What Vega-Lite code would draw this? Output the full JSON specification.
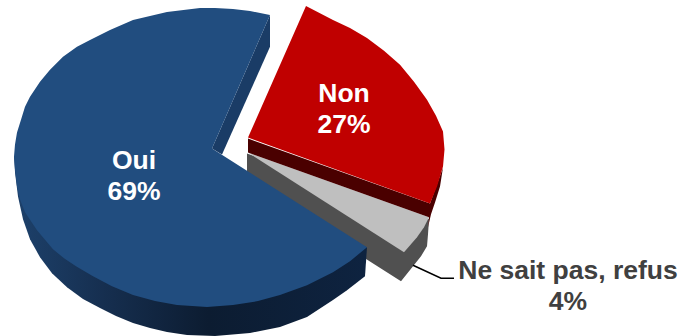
{
  "$schema": "https://vega.github.io/schema/vega-lite/v6.json",
  "width": 681,
  "height": 336,
  "padding": 0,
  "autosize": {"type": "fit", "contains": "padding"},
  "background": "white",
  "view": {"stroke": null},
  "config": {"font": "Liberation Sans"},
  "datasets": {
    "faces": [
      {"part":"gris_cote","seq":1,"x":247,"y":154},{"part":"gris_cote","seq":2,"x":429,"y":220},{"part":"gris_cote","seq":3,"x":428,"y":235},{"part":"gris_cote","seq":4,"x":427,"y":247},{"part":"gris_cote","seq":5,"x":421,"y":257},{"part":"gris_cote","seq":6,"x":413,"y":267},{"part":"gris_cote","seq":7,"x":401,"y":282},{"part":"gris_cote","seq":8,"x":247,"y":184},
      {"part":"gris_dessus","seq":1,"x":248,"y":153},{"part":"gris_dessus","seq":2,"x":429,"y":218},{"part":"gris_dessus","seq":3,"x":424,"y":228},{"part":"gris_dessus","seq":4,"x":417,"y":238},{"part":"gris_dessus","seq":5,"x":404,"y":253},
      {"part":"non_cote","seq":1,"x":248,"y":139},{"part":"non_cote","seq":2,"x":430,"y":204},{"part":"non_cote","seq":3,"x":443,"y":168},{"part":"non_cote","seq":4,"x":440,"y":187},{"part":"non_cote","seq":5,"x":435,"y":203},{"part":"non_cote","seq":6,"x":431,"y":215},{"part":"non_cote","seq":7,"x":428,"y":228},{"part":"non_cote","seq":8,"x":429,"y":218},{"part":"non_cote","seq":9,"x":248,"y":153},
      {"part":"non_dessus","seq":1,"x":248,"y":138},{"part":"non_dessus","seq":2,"x":306,"y":6},{"part":"non_dessus","seq":3,"x":333,"y":20},{"part":"non_dessus","seq":4,"x":350,"y":28},{"part":"non_dessus","seq":5,"x":367,"y":38},{"part":"non_dessus","seq":6,"x":384,"y":51},{"part":"non_dessus","seq":7,"x":400,"y":65},{"part":"non_dessus","seq":8,"x":414,"y":82},{"part":"non_dessus","seq":9,"x":427,"y":100},{"part":"non_dessus","seq":10,"x":436,"y":116},{"part":"non_dessus","seq":11,"x":443,"y":132},{"part":"non_dessus","seq":12,"x":444.5,"y":150},{"part":"non_dessus","seq":13,"x":443,"y":167},{"part":"non_dessus","seq":14,"x":437,"y":187},{"part":"non_dessus","seq":15,"x":430,"y":204},
      {"part":"oui_cote","seq":1,"x":14,"y":157},{"part":"oui_cote","seq":2,"x":15,"y":173},{"part":"oui_cote","seq":3,"x":18,"y":197},{"part":"oui_cote","seq":4,"x":23,"y":220},{"part":"oui_cote","seq":5,"x":30,"y":240},{"part":"oui_cote","seq":6,"x":40,"y":258},{"part":"oui_cote","seq":7,"x":52,"y":274},{"part":"oui_cote","seq":8,"x":67,"y":288},{"part":"oui_cote","seq":9,"x":83,"y":300},{"part":"oui_cote","seq":10,"x":100,"y":309},{"part":"oui_cote","seq":11,"x":116,"y":317},{"part":"oui_cote","seq":12,"x":133,"y":324},{"part":"oui_cote","seq":13,"x":150,"y":329},{"part":"oui_cote","seq":14,"x":167,"y":333},{"part":"oui_cote","seq":15,"x":187,"y":336},{"part":"oui_cote","seq":16,"x":215,"y":337},{"part":"oui_cote","seq":17,"x":250,"y":334},{"part":"oui_cote","seq":18,"x":280,"y":328},{"part":"oui_cote","seq":19,"x":307,"y":318},{"part":"oui_cote","seq":20,"x":333,"y":301},{"part":"oui_cote","seq":21,"x":347,"y":291},{"part":"oui_cote","seq":22,"x":365,"y":277},{"part":"oui_cote","seq":23,"x":367,"y":248},
      {"part":"oui_coupe","seq":1,"x":270,"y":15},{"part":"oui_coupe","seq":2,"x":270,"y":47},{"part":"oui_coupe","seq":3,"x":222,"y":155},{"part":"oui_coupe","seq":4,"x":212,"y":149},
      {"part":"oui_dessus","seq":1,"x":212,"y":149},{"part":"oui_dessus","seq":2,"x":270,"y":15},{"part":"oui_dessus","seq":3,"x":250,"y":11},{"part":"oui_dessus","seq":4,"x":233,"y":9},{"part":"oui_dessus","seq":5,"x":215,"y":8},{"part":"oui_dessus","seq":6,"x":200,"y":8},{"part":"oui_dessus","seq":7,"x":167,"y":12},{"part":"oui_dessus","seq":8,"x":133,"y":20},{"part":"oui_dessus","seq":9,"x":110,"y":30},{"part":"oui_dessus","seq":10,"x":90,"y":40},{"part":"oui_dessus","seq":11,"x":77,"y":47},{"part":"oui_dessus","seq":12,"x":63,"y":57},{"part":"oui_dessus","seq":13,"x":50,"y":70},{"part":"oui_dessus","seq":14,"x":40,"y":82},{"part":"oui_dessus","seq":15,"x":30,"y":97},{"part":"oui_dessus","seq":16,"x":25,"y":107},{"part":"oui_dessus","seq":17,"x":21,"y":120},{"part":"oui_dessus","seq":18,"x":17,"y":133},{"part":"oui_dessus","seq":19,"x":15,"y":145},{"part":"oui_dessus","seq":20,"x":14,"y":157},{"part":"oui_dessus","seq":21,"x":15,"y":170},{"part":"oui_dessus","seq":22,"x":17,"y":187},{"part":"oui_dessus","seq":23,"x":20,"y":200},{"part":"oui_dessus","seq":24,"x":25,"y":213},{"part":"oui_dessus","seq":25,"x":37,"y":231},{"part":"oui_dessus","seq":26,"x":53,"y":250},{"part":"oui_dessus","seq":27,"x":64,"y":259},{"part":"oui_dessus","seq":28,"x":76,"y":267},{"part":"oui_dessus","seq":29,"x":93,"y":277},{"part":"oui_dessus","seq":30,"x":112,"y":287},{"part":"oui_dessus","seq":31,"x":133,"y":296},{"part":"oui_dessus","seq":32,"x":155,"y":302},{"part":"oui_dessus","seq":33,"x":177,"y":306},{"part":"oui_dessus","seq":34,"x":207,"y":308},{"part":"oui_dessus","seq":35,"x":233,"y":306},{"part":"oui_dessus","seq":36,"x":258,"y":302},{"part":"oui_dessus","seq":37,"x":280,"y":296},{"part":"oui_dessus","seq":38,"x":307,"y":286},{"part":"oui_dessus","seq":39,"x":333,"y":273},{"part":"oui_dessus","seq":40,"x":350,"y":262},{"part":"oui_dessus","seq":41,"x":367,"y":248}
    ],
    "leader": [
      {"seq":1,"x":413,"y":266},{"seq":2,"x":441,"y":279},{"seq":3,"x":454,"y":279}
    ],
    "labels": [
      {"text":"Oui","x":134,"y":170,"tone":"clair"},
      {"text":"69%","x":134,"y":201,"tone":"clair"},
      {"text":"Non","x":344,"y":102,"tone":"clair"},
      {"text":"27%","x":344,"y":133,"tone":"clair"},
      {"text":"Ne sait pas, refus","x":568,"y":280,"tone":"sombre"},
      {"text":"4%","x":568,"y":311,"tone":"sombre"}
    ]
  },
  "encoding": {
    "x": {"field":"x","type":"quantitative","scale":{"domain":[0,681],"nice":false,"zero":false},"axis":null},
    "y": {"field":"y","type":"quantitative","scale":{"domain":[336,0],"nice":false,"zero":false},"axis":null}
  },
  "layer": [
    {"data":{"name":"faces"},"transform":[{"filter":"datum.part==='gris_cote'"}],"mark":{"type":"line","filled":true,"fill":"#505050","stroke":null},"encoding":{"order":{"field":"seq"}}},
    {"data":{"name":"faces"},"transform":[{"filter":"datum.part==='gris_dessus'"}],"mark":{"type":"line","filled":true,"fill":"#bfbfbf","stroke":null},"encoding":{"order":{"field":"seq"}}},
    {"data":{"name":"faces"},"transform":[{"filter":"datum.part==='non_cote'"}],"mark":{"type":"line","filled":true,"fill":"#4a0000","stroke":null},"encoding":{"order":{"field":"seq"}}},
    {"data":{"name":"faces"},"transform":[{"filter":"datum.part==='non_dessus'"}],"mark":{"type":"line","filled":true,"fill":"#c00000","stroke":null},"encoding":{"order":{"field":"seq"}}},
    {"data":{"name":"faces"},"transform":[{"filter":"datum.part==='oui_coupe'"}],"mark":{"type":"line","filled":true,"fill":"#1a3c66","stroke":null},"encoding":{"order":{"field":"seq"}}},
    {"data":{"name":"faces"},"transform":[{"filter":"datum.part==='oui_cote'"}],"mark":{"type":"line","filled":true,"stroke":null,"fill":{"gradient":"linear","x1":0,"y1":0,"x2":1,"y2":0,"stops":[{"offset":0,"color":"#1d416b"},{"offset":0.25,"color":"#162f50"},{"offset":0.55,"color":"#0c1c31"},{"offset":1,"color":"#0e2340"}]}},"encoding":{"order":{"field":"seq"}}},
    {"data":{"name":"faces"},"transform":[{"filter":"datum.part==='oui_dessus'"}],"mark":{"type":"line","filled":true,"fill":"#214d7f","stroke":null},"encoding":{"order":{"field":"seq"}}},
    {"data":{"name":"leader"},"mark":{"type":"line","color":"black","strokeWidth":1.5},"encoding":{"order":{"field":"seq"}}},
    {"data":{"name":"labels"},"mark":{"type":"text","font":"Liberation Sans","fontWeight":"bold","fontSize":26.5,"align":"center","baseline":"alphabetic"},"encoding":{"text":{"field":"text"},"color":{"field":"tone","type":"nominal","scale":{"domain":["clair","sombre"],"range":["#ffffff","#404040"]},"legend":null}}}
  ]
}
